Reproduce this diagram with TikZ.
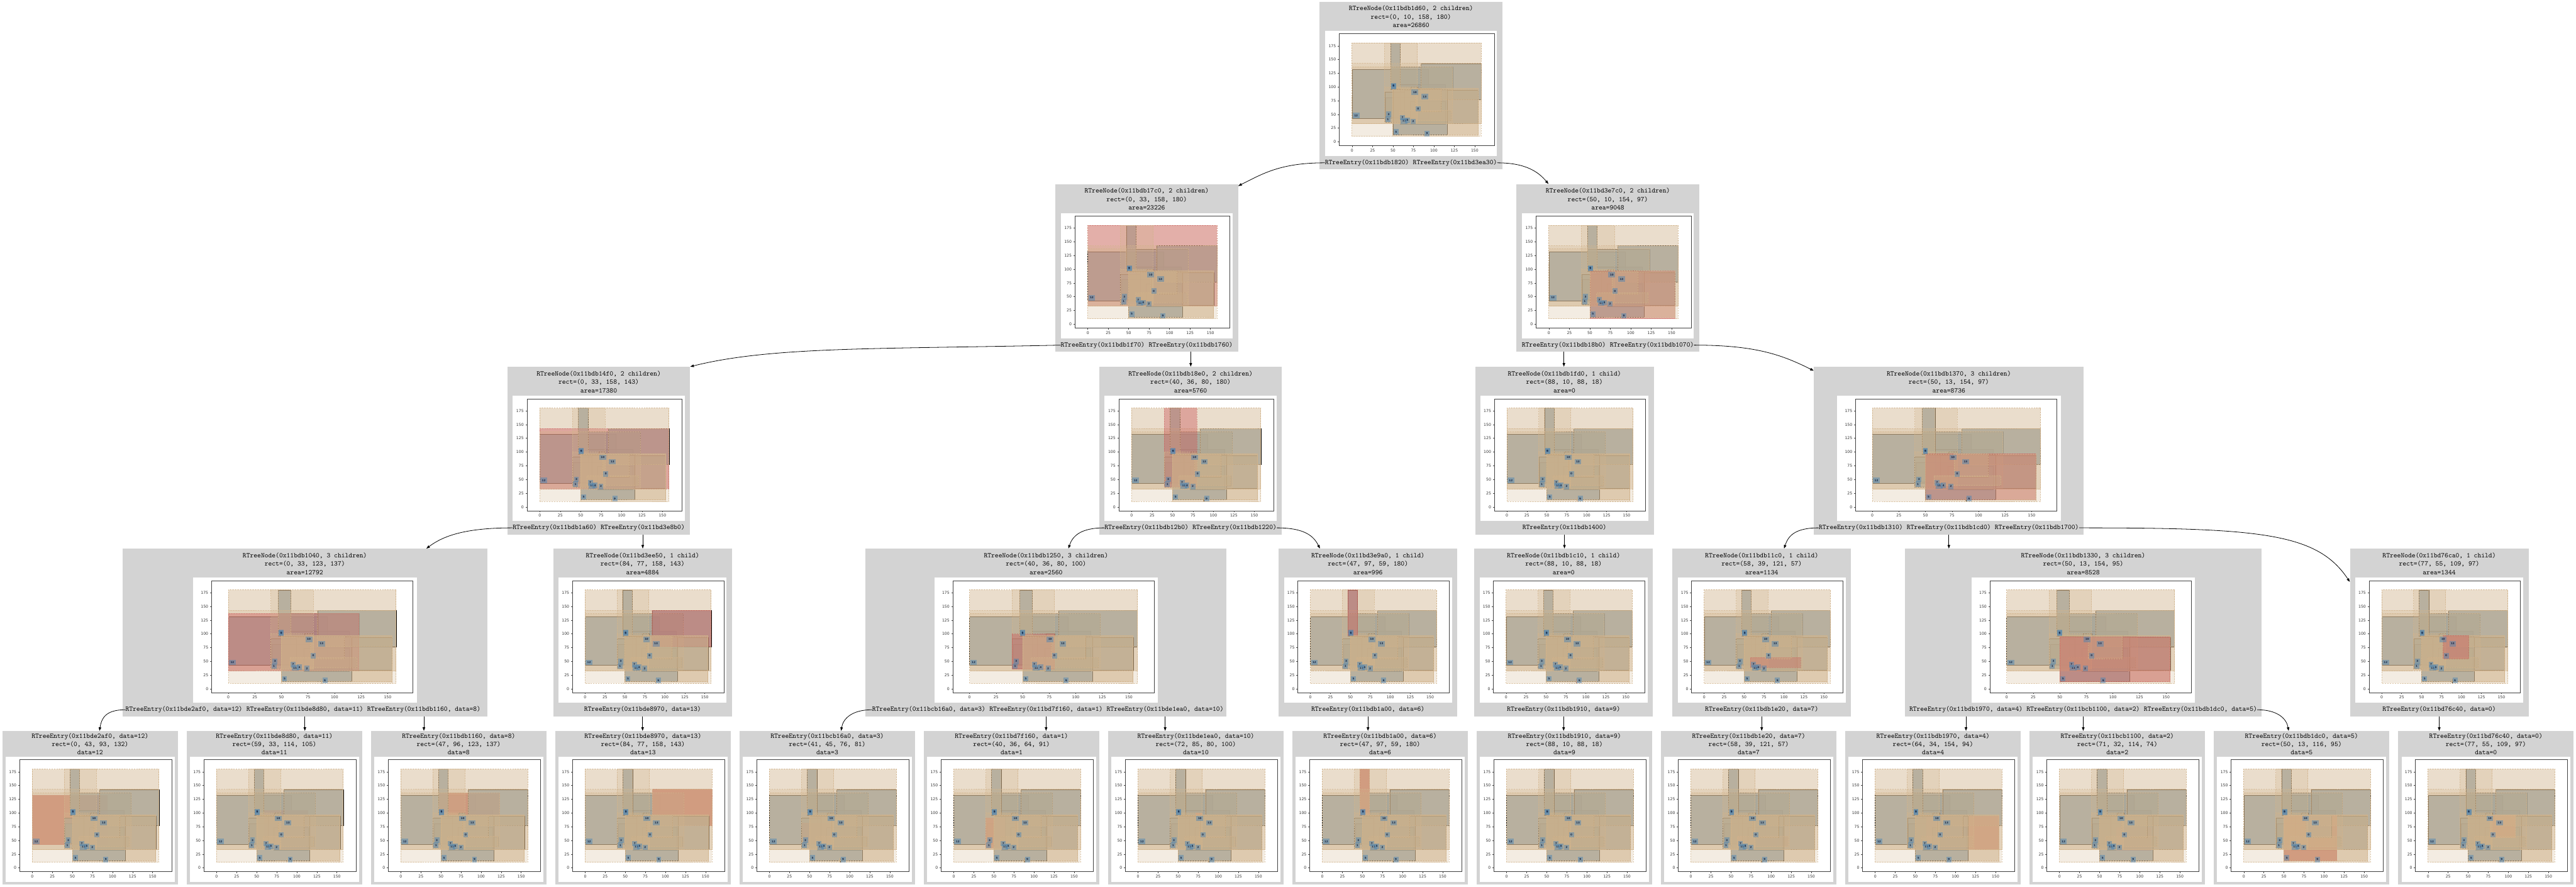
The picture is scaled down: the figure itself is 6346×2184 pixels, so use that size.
\documentclass[tikz,border=0pt]{standalone}
\usepackage{fontspec}
\newfontfamily\ticksans{DejaVu Sans}
\usetikzlibrary{positioning,arrows.meta}

\definecolor{cellgray}{RGB}{211,211,211}
\definecolor{tanbox}{RGB}{210,180,140}
\definecolor{steelbox}{RGB}{70,130,180}
\definecolor{hlred}{RGB}{205,92,92}
\definecolor{ptnavy}{RGB}{22,40,72}

% the matplotlib panel: #1,#2 top left of the white area, #3 its width,
% #4 number of the red tree node, #5 number of the red leaf entry (0 = none)
\newcommand{\rtplot}[5]{%
  \pgfmathsetmacro\plotsx{#3/424}%
  \pgfmathsetmacro\plotxu{0.040296*\plotsx}%
  \pgfmathsetmacro\plotox{66.83*\plotsx}%
  \begin{scope}[shift={(#1,#2)}]
    \fill[white] (0,0) rectangle (#3,308);
    \begin{scope}[shift={(\plotox,273.5)}, x=\plotxu cm, y=0.027059cm]
      % leaf entries
      \foreach \xa/\ya/\xb/\yb [count=\c] in {0/43/93/132, 59/33/114/105, 47/96/123/137,
          84/77/158/143, 41/45/76/81, 40/36/64/91, 72/85/80/100, 47/97/59/180, 88/10/88/18,
          58/39/121/57, 64/34/154/94, 71/32/114/74, 50/13/116/95, 77/55/109/97} {
        \ifnum\c=#5\relax \draw[hlentry] (\xa,\ya) rectangle (\xb,\yb);
        \else \draw[entryrect] (\xa,\ya) rectangle (\xb,\yb); \fi
      }
      % tree nodes over them
      \foreach \xa/\ya/\xb/\yb [count=\c] in {0/10/158/180, 0/33/158/180, 0/33/158/143,
          0/33/123/137, 84/77/158/143, 40/36/80/180, 40/36/80/100, 47/97/59/180, 50/10/154/97,
          88/10/88/18, 88/10/88/18, 50/13/154/97, 58/39/121/57, 50/13/154/95, 77/55/109/97} {
        \ifnum\c=#4\relax \draw[hlrect] (\xa,\ya) rectangle (\xb,\yb);
        \else \draw[noderect] (\xa,\ya) rectangle (\xb,\yb); \fi
      }
      \foreach \d/\xa/\ya in {12/0/43, 11/59/33, 8/47/96, 13/84/77, 3/41/45, 1/40/36, 10/72/85,
          6/47/97, 9/88/10, 7/58/39, 4/64/34, 2/71/32, 5/50/13, 0/77/55}
        \node[ptlabel] (pt\d) at (\xa+0.5,\ya) {\d};
      % axes
      \draw[axisline] (-15.8,-7) rectangle (173.8,197);
      \foreach \t in {0,25,...,150}
        \draw[axisline] (\t,-7) -- ++(0,-0.07cm) node[ticklbl, anchor=north] (xt\t) {\t};
      \foreach \t in {0,25,...,175}
        \draw[axisline] (-15.8,\t) -- ++(-0.07cm,0) node[ticklbl, anchor=east] (yt\t) {\t};
    \end{scope}
  \end{scope}}

% inner tree node: name, centre x, top, box width, panel width, three lines, red node number
\newcommand{\rtnode}[9]{%
  \node[cellbox, anchor=north, minimum width=#4*0.02cm, minimum height=8.26cm] (#1) at (#2,#3) {};
  \node[celltext, anchor=base] (#1-t1) at (#2,#3+22) {#6};
  \node[celltext, anchor=base] (#1-t2) at (#2,#3+43) {#7};
  \node[celltext, anchor=base] (#1-t3) at (#2,#3+64) {#8};
  \rtplot{#2-#5/2}{#3+72}{#5}{#9}{0}}

% leaf entry: name, centre x, three lines, red entry number
\newcommand{\rtleaf}[6]{%
  \node[cellbox, anchor=north, minimum width=8.64cm, minimum height=7.56cm] (#1) at (#2,1800) {};
  \node[celltext, anchor=base] (#1-t1) at (#2,1818) {#3};
  \node[celltext, anchor=base] (#1-t2) at (#2,1839) {#4};
  \node[celltext, anchor=base] (#1-t3) at (#2,1858) {#5};
  \rtplot{#2-208}{1864}{416}{0}{#6}}

\begin{document}
\begin{tikzpicture}[x=0.02cm, y=-0.02cm, >={Triangle[length=5pt,width=3.6pt]}]
    % styles
    \tikzstyle{cellbox} = [draw=none, fill=cellgray, inner sep=0]
    \tikzstyle{celltext} = [inner sep=0, font=\ttfamily\fontsize{9.76}{11}\selectfont]
    \tikzstyle{noderect} = [draw=tanbox, draw opacity=0.7, dash pattern=on 2.3pt off 1.2pt, line width=0.8pt, fill=tanbox, fill opacity=0.25]
    \tikzstyle{hlrect} = [draw=hlred, draw opacity=0.5, dash pattern=on 2.3pt off 1.2pt, line width=0.8pt, fill=hlred, fill opacity=0.42]
    \tikzstyle{entryrect} = [fill=steelbox, fill opacity=0.67]
    \tikzstyle{hlentry} = [draw=hlred, line width=0.8pt, fill=hlred, fill opacity=0.9]
    \tikzstyle{ptlabel} = [anchor=south west, fill=steelbox, fill opacity=0.45, text opacity=1, text=ptnavy, font=\ticksans\bfseries\fontsize{3.7}{4}\selectfont, inner xsep=2.2pt, inner ysep=0pt, minimum height=0.27cm]
    \tikzstyle{axisline} = [black!75, line width=0.5pt]
    \tikzstyle{ticklbl} = [black!80, font=\ticksans\fontsize{5.4}{6}\selectfont, inner sep=0.08cm]
    \tikzstyle{link} = [->, line width=0.7pt, black]

    \useasboundingbox (0,0) rectangle (6346,2184);

    % ================= root and first level =================
    \rtnode{root}{3476}{4}{450}{424}{RTreeNode(0x11bdb1d60, 2 children)}{rect=(0, 10, 158, 180)}{area=26860}{0}
    \node[celltext, anchor=base east] (root-e1) at (3471.5,405) {RTreeEntry(0x11bdb1820)};
    \node[celltext, anchor=base west] (root-e2) at (3480.5,405) {RTreeEntry(0x11bd3ea30)};

    \rtnode{n1a}{2825}{453}{450}{424}{RTreeNode(0x11bdb17c0, 2 children)}{rect=(0, 33, 158, 180)}{area=23226}{2}
    \node[celltext, anchor=base east] (n1a-e1) at (2820.5,854) {RTreeEntry(0x11bdb1f70)};
    \node[celltext, anchor=base west] (n1a-e2) at (2829.5,854) {RTreeEntry(0x11bdb1760)};

    \rtnode{n1b}{3961}{453}{450}{424}{RTreeNode(0x11bd3e7c0, 2 children)}{rect=(50, 10, 154, 97)}{area=9048}{9}
    \node[celltext, anchor=base east] (n1b-e1) at (3956.5,854) {RTreeEntry(0x11bdb18b0)};
    \node[celltext, anchor=base west] (n1b-e2) at (3965.5,854) {RTreeEntry(0x11bdb1070)};

    % ================= second level =================
    \rtnode{n2a}{1475}{903}{450}{424}{RTreeNode(0x11bdb14f0, 2 children)}{rect=(0, 33, 158, 143)}{area=17380}{3}
    \node[celltext, anchor=base east] (n2a-e1) at (1470.5,1304) {RTreeEntry(0x11bdb1a60)};
    \node[celltext, anchor=base west] (n2a-e2) at (1479.5,1304) {RTreeEntry(0x11bd3e8b0)};

    \rtnode{n2b}{2933}{903}{450}{424}{RTreeNode(0x11bdb18e0, 2 children)}{rect=(40, 36, 80, 180)}{area=5760}{6}
    \node[celltext, anchor=base east] (n2b-e1) at (2928.5,1304) {RTreeEntry(0x11bdb12b0)};
    \node[celltext, anchor=base west] (n2b-e2) at (2937.5,1304) {RTreeEntry(0x11bdb1220)};

    \rtnode{n2c}{3854}{903}{440}{414}{RTreeNode(0x11bdb1fd0, 1 child)}{rect=(88, 10, 88, 18)}{area=0}{10}
    \node[celltext, anchor=base] (n2c-e1) at (3854,1304) {RTreeEntry(0x11bdb1400)};

    \rtnode{n2d}{4801}{903}{665}{551}{RTreeNode(0x11bdb1370, 3 children)}{rect=(50, 13, 154, 97)}{area=8736}{12}
    \node[celltext, anchor=base] (n2d-e2) at (4801,1304) {RTreeEntry(0x11bdb1cd0)};
    \node[celltext, left=0.18cm of n2d-e2] (n2d-e1) {RTreeEntry(0x11bdb1310)};
    \node[celltext, right=0.18cm of n2d-e2] (n2d-e3) {RTreeEntry(0x11bdb1700)};

    % ================= third level =================
    \rtnode{n3a}{751}{1351}{898}{551}{RTreeNode(0x11bdb1040, 3 children)}{rect=(0, 33, 123, 137)}{area=12792}{4}
    \node[celltext, anchor=base] (n3a-e2) at (751,1752) {RTreeEntry(0x11bde8d80, data=11)};
    \node[celltext, left=0.18cm of n3a-e2] (n3a-e1) {RTreeEntry(0x11bde2af0, data=12)};
    \node[celltext, right=0.18cm of n3a-e2] (n3a-e3) {RTreeEntry(0x11bdb1160, data=8)};

    \rtnode{n3b}{1583}{1351}{440}{414}{RTreeNode(0x11bd3ee50, 1 child)}{rect=(84, 77, 158, 143)}{area=4884}{5}
    \node[celltext, anchor=base] (n3b-e1) at (1583,1752) {RTreeEntry(0x11bde8970, data=13)};

    \rtnode{n3c}{2577}{1351}{889}{551}{RTreeNode(0x11bdb1250, 3 children)}{rect=(40, 36, 80, 100)}{area=2560}{7}
    \node[celltext, anchor=base] (n3c-e2) at (2577,1752) {RTreeEntry(0x11bd7f160, data=1)};
    \node[celltext, left=0.18cm of n3c-e2] (n3c-e1) {RTreeEntry(0x11bcb16a0, data=3)};
    \node[celltext, right=0.18cm of n3c-e2] (n3c-e3) {RTreeEntry(0x11bde1ea0, data=10)};

    \rtnode{n3d}{3370}{1351}{440}{414}{RTreeNode(0x11bd3e9a0, 1 child)}{rect=(47, 97, 59, 180)}{area=996}{8}
    \node[celltext, anchor=base] (n3d-e1) at (3370,1752) {RTreeEntry(0x11bdb1a00, data=6)};

    \rtnode{n3e}{3852}{1351}{440}{414}{RTreeNode(0x11bdb1c10, 1 child)}{rect=(88, 10, 88, 18)}{area=0}{11}
    \node[celltext, anchor=base] (n3e-e1) at (3852,1752) {RTreeEntry(0x11bdb1910, data=9)};

    \rtnode{n3f}{4340}{1351}{440}{414}{RTreeNode(0x11bdb11c0, 1 child)}{rect=(58, 39, 121, 57)}{area=1134}{13}
    \node[celltext, anchor=base] (n3f-e1) at (4340,1752) {RTreeEntry(0x11bdb1e20, data=7)};

    \rtnode{n3g}{5132}{1351}{878}{551}{RTreeNode(0x11bdb1330, 3 children)}{rect=(50, 13, 154, 95)}{area=8528}{14}
    \node[celltext, anchor=base] (n3g-e2) at (5132,1752) {RTreeEntry(0x11bcb1100, data=2)};
    \node[celltext, left=0.18cm of n3g-e2] (n3g-e1) {RTreeEntry(0x11bdb1970, data=4)};
    \node[celltext, right=0.18cm of n3g-e2] (n3g-e3) {RTreeEntry(0x11bdb1dc0, data=5)};

    \rtnode{n3h}{6009}{1351}{440}{414}{RTreeNode(0x11bd76ca0, 1 child)}{rect=(77, 55, 109, 97)}{area=1344}{15}
    \node[celltext, anchor=base] (n3h-e1) at (6009,1752) {RTreeEntry(0x11bd76c40, data=0)};

    % ================= leaves =================
    \foreach \i/\addr/\dd/\lx/\ly/\lxx/\lyy [evaluate=\i as \lc using 222+454*(\i-1)] in {1/0x11bde2af0/12/0/43/93/132, 2/0x11bde8d80/11/59/33/114/105,
        3/0x11bdb1160/8/47/96/123/137, 4/0x11bde8970/13/84/77/158/143, 5/0x11bcb16a0/3/41/45/76/81,
        6/0x11bd7f160/1/40/36/64/91, 7/0x11bde1ea0/10/72/85/80/100, 8/0x11bdb1a00/6/47/97/59/180,
        9/0x11bdb1910/9/88/10/88/18, 10/0x11bdb1e20/7/58/39/121/57, 11/0x11bdb1970/4/64/34/154/94,
        12/0x11bcb1100/2/71/32/114/74, 13/0x11bdb1dc0/5/50/13/116/95, 14/0x11bd76c40/0/77/55/109/97} {
        \rtleaf{lf\i}{\lc}{RTreeEntry(\addr, data=\dd)}{rect=(\lx, \ly, \lxx, \lyy)}{data=\dd}{\i}
    }

    % ================= links =================
    % straight down from an entry
    \foreach \p/\a/\b in {n1a/n1a-e2/n2b, n1b/n1b-e1/n2c, n2a/n2a-e2/n3b, n2c/n2c-e1/n3e, n2d/n2d-e2/n3g,
        n3a/n3a-e2/lf2, n3a/n3a-e3/lf3, n3b/n3b-e1/lf4, n3c/n3c-e2/lf6, n3c/n3c-e3/lf7, n3d/n3d-e1/lf8,
        n3e/n3e-e1/lf9, n3f/n3f-e1/lf10, n3g/n3g-e1/lf11, n3g/n3g-e2/lf12, n3h/n3h-e1/lf14}
        \draw[link] (\p.south -| \a) -- (\b.north -| \a);

    % from the side of an entry
    \draw[link] (root-e1.west) .. controls +(-110,0) and +(60,-30) .. ([yshift=-0.1cm]n1a.north east);
    \draw[link] (root-e2.east) .. controls +(70,0) and +(-25,-30) .. ([xshift=1.58cm]n1b.north west);
    \draw[link] (n1a-e1.west) .. controls +(-450,10) and +(200,-50) .. (n2a.north east);
    \draw[link] (n1b-e2.east) .. controls +(150,0) and +(-80,-40) .. ([yshift=-0.2cm]n2d.north west);
    \draw[link] (n2a-e1.west) .. controls +(-120,0) and +(40,-30) .. ([xshift=-3cm]n3a.north east);
    \draw[link] (n2b-e1.west) .. controls +(-60,0) and +(10,-30) .. ([xshift=1.1cm]n3c.north);
    \draw[link] (n2b-e2.east) .. controls +(70,0) and +(-15,-30) .. ([xshift=2.04cm]n3d.north west);
    \draw[link] (n2d-e1.west) .. controls +(-60,0) and +(10,-30) .. ([xshift=1.1cm]n3f.north);
    \draw[link] (n2d-e3.east) .. controls +(450,0) and +(-80,-120) .. ([yshift=-1.64cm]n3h.north west);
    \draw[link] (n3a-e1.west) .. controls +(-50,0) and +(5,-30) .. ([xshift=0.46cm]lf1.north);
    \draw[link] (n3c-e1.west) .. controls +(-50,0) and +(5,-30) .. ([xshift=0.68cm]lf5.north);
    \draw[link] (n3g-e3.east) .. controls +(50,0) and +(-5,-30) .. ([xshift=-0.64cm]lf13.north);
\end{tikzpicture}
\end{document}
